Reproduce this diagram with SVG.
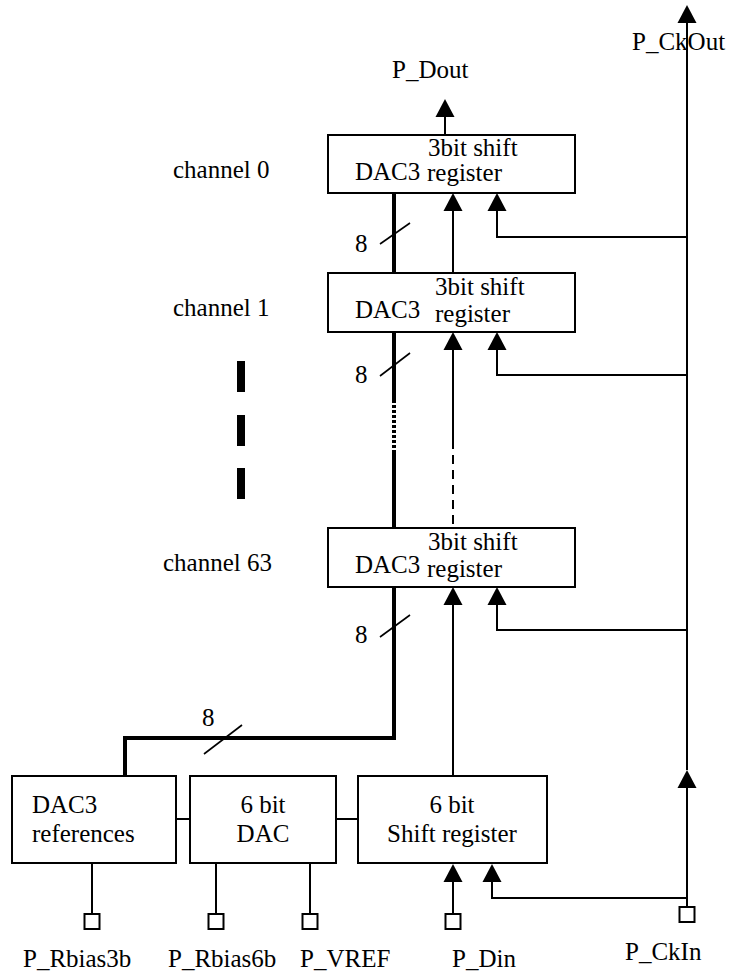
<svg xmlns="http://www.w3.org/2000/svg" width="729" height="976" viewBox="0 0 729 976">
<style>
text{font-family:"Liberation Serif","Times New Roman",serif;font-size:25px;fill:#000}
.box{fill:#fff;stroke:#000;stroke-width:2}
.pin{fill:#fff;stroke:#000;stroke-width:2}
.w{fill:none;stroke:#000;stroke-width:2}
.bus{fill:none;stroke:#000;stroke-width:4}
.dot{fill:none;stroke:#000;stroke-width:4;stroke-dasharray:3 2}
.dash{fill:none;stroke:#000;stroke-width:2;stroke-dasharray:9 6}
.sl{fill:none;stroke:#000;stroke-width:1.6}
.mid{text-anchor:middle}
</style>
<defs>
<marker id="arr" markerUnits="userSpaceOnUse" markerWidth="18" markerHeight="20" refX="0" refY="9.5" orient="auto" viewBox="0 0 18 19">
<path d="M0,0 L18,9.5 L0,19 Z" fill="#000"/>
</marker>
</defs>

<g id="connectors">
<line class="w" x1="445" y1="135" x2="445" y2="117" marker-end="url(#arr)"/>
<line class="w" x1="453" y1="273" x2="453" y2="211" marker-end="url(#arr)"/>
<polyline class="w" points="687,237 497,237 497,211" marker-end="url(#arr)"/>
<line class="w" x1="453" y1="449" x2="453" y2="350" marker-end="url(#arr)"/>
<line class="dash" x1="453" y1="455" x2="453" y2="528"/>
<polyline class="w" points="687,375 497,375 497,350" marker-end="url(#arr)"/>
<line class="w" x1="453" y1="776" x2="453" y2="605" marker-end="url(#arr)"/>
<polyline class="w" points="687,630 497,630 497,605" marker-end="url(#arr)"/>
<line class="bus" x1="394" y1="193" x2="394" y2="273"/>
<line class="bus" x1="394" y1="332" x2="394" y2="400"/>
<line class="dot" x1="394" y1="400" x2="394" y2="452"/>
<line class="bus" x1="394" y1="452" x2="394" y2="528"/>
<polyline class="bus" points="394,587 394,738 125,738 125,776"/>
<line class="sl" x1="380" y1="244" x2="410" y2="223"/>
<line class="sl" x1="380" y1="376" x2="410" y2="353"/>
<line class="sl" x1="380" y1="637" x2="410" y2="615"/>
<line class="sl" x1="204" y1="754" x2="242" y2="725"/>
<line class="w" x1="176" y1="819" x2="190" y2="819"/>
<line class="w" x1="336" y1="819" x2="358" y2="819"/>
<line class="w" x1="92" y1="863" x2="92" y2="914"/>
<line class="w" x1="216" y1="863" x2="216" y2="914"/>
<line class="w" x1="310" y1="863" x2="310" y2="914"/>
<line class="w" x1="453" y1="914" x2="453" y2="882" marker-end="url(#arr)"/>
<polyline class="w" points="687,898 492,898 492,882" marker-end="url(#arr)"/>
<line class="w" x1="687" y1="907" x2="687" y2="788" marker-end="url(#arr)"/>
<line class="w" x1="687" y1="770" x2="687" y2="23" marker-end="url(#arr)"/>
</g>

<g id="ch0">
<rect class="box" x="328" y="135" width="247" height="58"/>
<text x="355" y="180">DAC3</text>
<text x="428" y="156">3bit shift</text>
<text x="427" y="181">register</text>
</g>
<g id="ch1">
<rect class="box" x="328" y="273" width="247" height="59"/>
<text x="355" y="318">DAC3</text>
<text x="435" y="295">3bit shift</text>
<text x="435" y="322">register</text>
</g>
<g id="ch63">
<rect class="box" x="328" y="528" width="247" height="59"/>
<text x="355" y="573">DAC3</text>
<text x="428" y="550">3bit shift</text>
<text x="427" y="577">register</text>
</g>

<g id="labels">
<text x="173" y="178">channel 0</text>
<text x="173" y="316">channel 1</text>
<text x="163" y="571">channel 63</text>
<text x="392" y="78">P_Dout</text>
<text x="632" y="50">P_CkOut</text>
<text x="355" y="252">8</text>
<text x="355" y="383">8</text>
<text x="355" y="643">8</text>
<text x="202" y="726">8</text>
</g>

<g id="ellipsis">
<rect x="237" y="361" width="8" height="31" fill="#000"/>
<rect x="237" y="415" width="8" height="31" fill="#000"/>
<rect x="237" y="468" width="8" height="31" fill="#000"/>
</g>

<g id="dac3ref">
<rect class="box" x="12" y="776" width="164" height="87"/>
<text x="32" y="813">DAC3</text>
<text x="32" y="842">references</text>
</g>
<g id="dac6">
<rect class="box" x="190" y="776" width="146" height="87"/>
<text class="mid" x="263" y="813">6 bit</text>
<text class="mid" x="263" y="842">DAC</text>
</g>
<g id="sr6">
<rect class="box" x="358" y="776" width="189" height="87"/>
<text class="mid" x="452" y="813">6 bit</text>
<text class="mid" x="452" y="842">Shift register</text>
</g>

<g id="pin_rbias3b">
<rect class="pin" x="84.5" y="914" width="15" height="15"/>
<text x="23" y="967">P_Rbias3b</text>
</g>
<g id="pin_rbias6b">
<rect class="pin" x="208.5" y="914" width="15" height="15"/>
<text x="168" y="967">P_Rbias6b</text>
</g>
<g id="pin_vref">
<rect class="pin" x="302.5" y="914" width="15" height="15"/>
<text x="300" y="967">P_VREF</text>
</g>
<g id="pin_din">
<rect class="pin" x="445.5" y="914" width="15" height="15"/>
<text x="452" y="967">P_Din</text>
</g>
<g id="pin_ckin">
<rect class="pin" x="679.5" y="907" width="15" height="15"/>
<text x="625" y="960">P_CkIn</text>
</g>
</svg>
